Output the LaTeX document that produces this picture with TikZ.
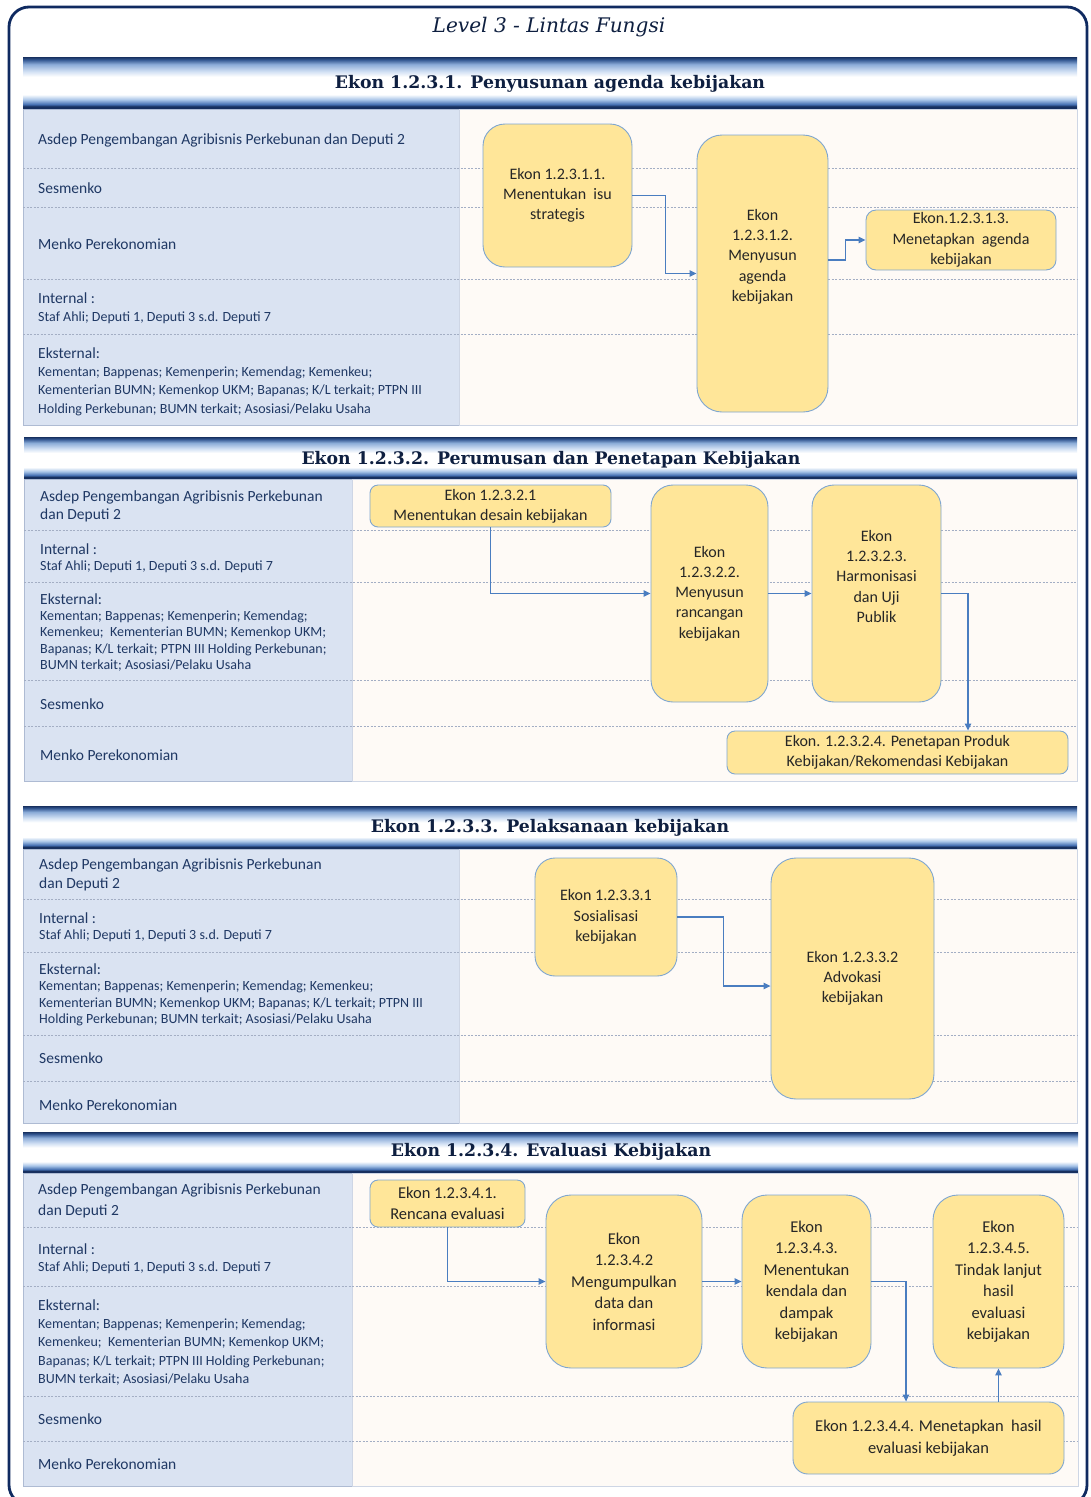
\documentclass[tikz,border=0pt]{standalone}
\usepackage{fontspec}
\setmainfont{Carlito}
\newfontfamily\hdrfont{DejaVu Serif}
\usetikzlibrary{arrows.meta,calc}
\definecolor{framecol}{HTML}{0F2A60}
\definecolor{laneL}{HTML}{DAE3F2}
\definecolor{laneR}{HTML}{FEFAF6}
\definecolor{laneborder}{HTML}{AEBBD3}
\definecolor{dashcol}{HTML}{A3AEC4}
\definecolor{lanetxt}{HTML}{1F3864}
\definecolor{boxfill}{HTML}{FFE699}
\definecolor{boxline}{HTML}{7FA6D0}
\definecolor{boxtxt}{HTML}{262626}
\definecolor{arrcol}{HTML}{4A7DC0}
\definecolor{hdark}{HTML}{17305F}
\definecolor{hmid}{HTML}{4570B2}
\definecolor{hlight}{HTML}{A9C5E8}
\definecolor{hpale}{HTML}{D3E1F4}
\definecolor{titletxt}{HTML}{0E1F40}
\pgfdeclareverticalshading{hdrshade}{100bp}{color(0bp)=(hdark); color(25bp)=(hdark); color(27.5bp)=(hdark); color(29.5bp)=(hmid); color(34bp)=(hlight); color(39bp)=(white); color(56bp)=(white); color(61bp)=(hpale); color(68bp)=(hlight!70!hmid); color(72.5bp)=(hmid!60!hdark); color(75bp)=(hdark); color(100bp)=(hdark)}
\tikzset{
  lanelbl/.style={anchor=west, text=lanetxt, align=left, inner sep=0pt, font=\fontsize{15.5}{18}\selectfont},
  lanesm/.style={anchor=west, text=lanetxt, align=left, inner sep=0pt, font=\fontsize{14}{18.5}\selectfont},
  box/.style={draw=boxline, fill=boxfill, line width=0.9pt, align=center, inner sep=0pt, text=boxtxt, font=\fontsize{16}{20.2}\selectfont},
  bigbox/.style={box, font=\fontsize{16.5}{21.5}\selectfont},
  arr/.style={draw=arrcol, line width=1.2pt, -{Triangle[length=7pt,width=6.5pt]}},
  lanedash/.style={draw=dashcol, line width=0.7pt, dash pattern=on 2pt off 1.5pt},
  leftcol/.style={fill=laneL, draw=laneborder, line width=0.8pt},
  rightcol/.style={fill=laneR, draw=laneborder!60, line width=0.8pt},
  hdrbar/.style={shading=hdrshade},
  hdrtitle/.style={text=titletxt, font=\hdrfont\bfseries\fontsize{17.3}{20}\selectfont, inner sep=0pt}
}
\begin{document}
\begin{tikzpicture}[x=1pt,y=-1pt]
\useasboundingbox (0,0) rectangle (1090,1497);
\begin{scope}
\clip (0,0) rectangle (1090,1497);
\fill[white] (0,0) rectangle (1090,1497);
\draw[framecol, line width=2.8pt, rounded corners=20pt] (9,7) rectangle (1087,1505);
\end{scope}
\node[text=titletxt, font=\hdrfont\itshape\fontsize{20.1}{23}\selectfont, inner sep=0pt] (lvl) at (549,27) {Level 3 - Lintas Fungsi};

% ================= Section 1 =================
\shade[hdrbar] (23,57) rectangle (1077,109);
\node[hdrtitle] (t1) at (550,84) {Ekon 1.2.3.1. Penyusunan agenda kebijakan};
\draw[leftcol] (23,109) rectangle (459,425);
\draw[rightcol] (459,109) rectangle (1077,425);
\foreach \yy in {168,207,279,334} \draw[lanedash] (23,\yy) -- (1077,\yy);
\node[lanelbl] (s1a) at (38,140) {Asdep Pengembangan Agribisnis Perkebunan dan Deputi 2};
\node[lanelbl] (s1b) at (38,188) {Sesmenko};
\node[lanelbl] (s1c) at (38,244) {Menko Perekonomian};
\node[lanelbl] (s1d) at (38,298) {Internal :};
\node[lanesm] (s1e) at (38,318) {Staf Ahli; Deputi 1, Deputi 3 s.d. Deputi 7};
\node[lanelbl] (s1f) at (38,353) {Eksternal:};
\node[lanesm] (s1g) at (38,391) {Kementan; Bappenas; Kemenperin; Kemendag; Kemenkeu;\\Kementerian BUMN; Kemenkop UKM; Bapanas; K/L terkait; PTPN III\\Holding Perkebunan; BUMN terkait; Asosiasi/Pelaku Usaha};

\node[box, rounded corners=22pt, minimum width=149pt, minimum height=143pt] (A) at (557.5,195.5) {Ekon 1.2.3.1.1.\\Menentukan~~isu\\strategis};
\node[box, rounded corners=25pt, minimum width=131pt, minimum height=277pt] (B) at (762.5,273.5) {Ekon\\1.2.3.1.2.\\Menyusun\\agenda\\kebijakan\\[16pt]};
\node[box, rounded corners=10pt, minimum width=190pt, minimum height=60pt] (C) at (961,240) {Ekon.1.2.3.1.3.\\Menetapkan~~agenda\\kebijakan};
\draw[arr] (A.east) -- ++(33,0) |- (B.west);
\draw[arr] ([yshift=13.5pt]B.east) -- ++(17,0) |- (C.west);

% ================= Section 2 =================
\shade[hdrbar] (24,437) rectangle (1077,479);
\node[hdrtitle] (t2) at (551,460) {Ekon 1.2.3.2. Perumusan dan Penetapan Kebijakan};
\draw[leftcol] (24,479) rectangle (352,781);
\draw[rightcol] (352,479) rectangle (1077,781);
\foreach \yy in {530,582,680,726} \draw[lanedash] (24,\yy) -- (1077,\yy);
\node[lanelbl] (s2a) at (40,506) {Asdep Pengembangan Agribisnis Perkebunan\\dan Deputi 2};
\node[lanelbl] (s2b) at (40,549) {Internal :};
\node[lanesm] (s2c) at (40,567) {Staf Ahli; Deputi 1, Deputi 3 s.d. Deputi 7};
\node[lanelbl] (s2d) at (40,599) {Eksternal:};
\node[lanesm, font=\fontsize{14}{16.5}\selectfont] (s2e) at (40,641) {Kementan; Bappenas; Kemenperin; Kemendag;\\Kemenkeu;~~Kementerian BUMN; Kemenkop UKM;\\Bapanas; K/L terkait; PTPN III Holding Perkebunan;\\BUMN terkait; Asosiasi/Pelaku Usaha};
\node[lanelbl] (s2f) at (40,704) {Sesmenko};
\node[lanelbl] (s2g) at (40,755) {Menko Perekonomian};

\node[box, rounded corners=8pt, minimum width=241pt, minimum height=42pt] (D) at (490.5,506) {Ekon 1.2.3.2.1\\Menentukan desain kebijakan};
\node[box, rounded corners=22pt, minimum width=117pt, minimum height=217pt] (E) at (709.5,593.5) {Ekon\\1.2.3.2.2.\\Menyusun\\rancangan\\kebijakan};
\node[box, rounded corners=22pt, minimum width=129pt, minimum height=217pt] (F) at (876.5,593.5) {Ekon\\1.2.3.2.3.\\Harmonisasi\\dan Uji\\Publik\\[14pt]};
\node[box, rounded corners=8pt, minimum width=341pt, minimum height=43pt] (G) at (897.5,752.5) {Ekon. 1.2.3.2.4. Penetapan Produk\\Kebijakan/Rekomendasi Kebijakan};
\draw[arr] (D.south) |- (E.west);
\draw[arr] (E.east) -- (F.west);
\draw[arr] (F.east) -| ([xshift=70.5pt]G.north);

% ================= Section 3 =================
\shade[hdrbar] (23,806) rectangle (1077,849);
\node[hdrtitle] (t3) at (550,828) {Ekon 1.2.3.3. Pelaksanaan kebijakan};
\draw[leftcol] (23,849) rectangle (459,1123);
\draw[rightcol] (459,849) rectangle (1077,1123);
\foreach \yy in {899,952,1035,1081} \draw[lanedash] (23,\yy) -- (1077,\yy);
\node[lanelbl, font=\fontsize{15.5}{19}\selectfont] (s3a) at (39,874.5) {Asdep Pengembangan Agribisnis Perkebunan\\dan Deputi 2};
\node[lanelbl] (s3b) at (39,918) {Internal :};
\node[lanesm] (s3c) at (39,936) {Staf Ahli; Deputi 1, Deputi 3 s.d. Deputi 7};
\node[lanelbl] (s3d) at (39,969) {Eksternal:};
\node[lanesm, font=\fontsize{14}{16.5}\selectfont] (s3e) at (39,1003.5) {Kementan; Bappenas; Kemenperin; Kemendag; Kemenkeu;\\Kementerian BUMN; Kemenkop UKM; Bapanas; K/L terkait; PTPN III\\Holding Perkebunan; BUMN terkait; Asosiasi/Pelaku Usaha};
\node[lanelbl] (s3f) at (39,1058) {Sesmenko};
\node[lanelbl] (s3g) at (39,1105) {Menko Perekonomian};

\node[box, rounded corners=20pt, minimum width=142pt, minimum height=118pt] (H) at (606,917) {Ekon 1.2.3.3.1\\Sosialisasi\\kebijakan};
\node[box, rounded corners=25pt, minimum width=163pt, minimum height=241pt] (I) at (852.5,978.5) {Ekon 1.2.3.3.2\\Advokasi\\kebijakan};
\draw[arr] (H.east) -- ++(46,0) |- ([yshift=-7.5pt]I.west);

% ================= Section 4 =================
\shade[hdrbar] (23,1132) rectangle (1078,1173);
\node[hdrtitle] (t4) at (551,1152) {Ekon 1.2.3.4. Evaluasi Kebijakan};
\draw[leftcol] (23,1173) rectangle (352,1486);
\draw[rightcol] (352,1173) rectangle (1078,1486);
\foreach \yy in {1227,1286,1396,1441} \draw[lanedash] (23,\yy) -- (1078,\yy);
\node[lanelbl, font=\fontsize{15.5}{21}\selectfont] (s4a) at (38,1200.5) {Asdep Pengembangan Agribisnis Perkebunan\\dan Deputi 2};
\node[lanelbl] (s4b) at (38,1249) {Internal :};
\node[lanesm] (s4c) at (38,1268) {Staf Ahli; Deputi 1, Deputi 3 s.d. Deputi 7};
\node[lanelbl] (s4d) at (38,1305) {Eksternal:};
\node[lanesm] (s4e) at (38,1352) {Kementan; Bappenas; Kemenperin; Kemendag;\\Kemenkeu;~~Kementerian BUMN; Kemenkop UKM;\\Bapanas; K/L terkait; PTPN III Holding Perkebunan;\\BUMN terkait; Asosiasi/Pelaku Usaha};
\node[lanelbl] (s4f) at (38,1419) {Sesmenko};
\node[lanelbl] (s4g) at (38,1464) {Menko Perekonomian};

\node[bigbox, rounded corners=8pt, minimum width=155pt, minimum height=47pt] (J) at (447.5,1203.5) {Ekon 1.2.3.4.1.\\Rencana evaluasi};
\node[bigbox, rounded corners=25pt, minimum width=156pt, minimum height=173pt] (K) at (624,1281.5) {Ekon\\1.2.3.4.2\\Mengumpulkan\\data dan\\informasi};
\node[bigbox, rounded corners=25pt, minimum width=129pt, minimum height=173pt] (L) at (806.5,1281.5) {Ekon\\1.2.3.4.3.\\Menentukan\\kendala dan\\dampak\\kebijakan};
\node[bigbox, rounded corners=25pt, minimum width=131pt, minimum height=173pt] (M) at (998.5,1281.5) {Ekon\\1.2.3.4.5.\\Tindak lanjut\\hasil\\evaluasi\\kebijakan};
\node[bigbox, rounded corners=15pt, minimum width=271pt, minimum height=72pt] (N) at (928.5,1438) {Ekon 1.2.3.4.4. Menetapkan~~hasil\\evaluasi kebijakan};
\draw[arr] (J.south) |- (K.west);
\draw[arr] (K.east) -- (L.west);
\draw[arr] (L.east) -| ([xshift=-22.5pt]N.north);
\draw[arr] (N.north -| M.south) -- (M.south);
\end{tikzpicture}
\end{document}
